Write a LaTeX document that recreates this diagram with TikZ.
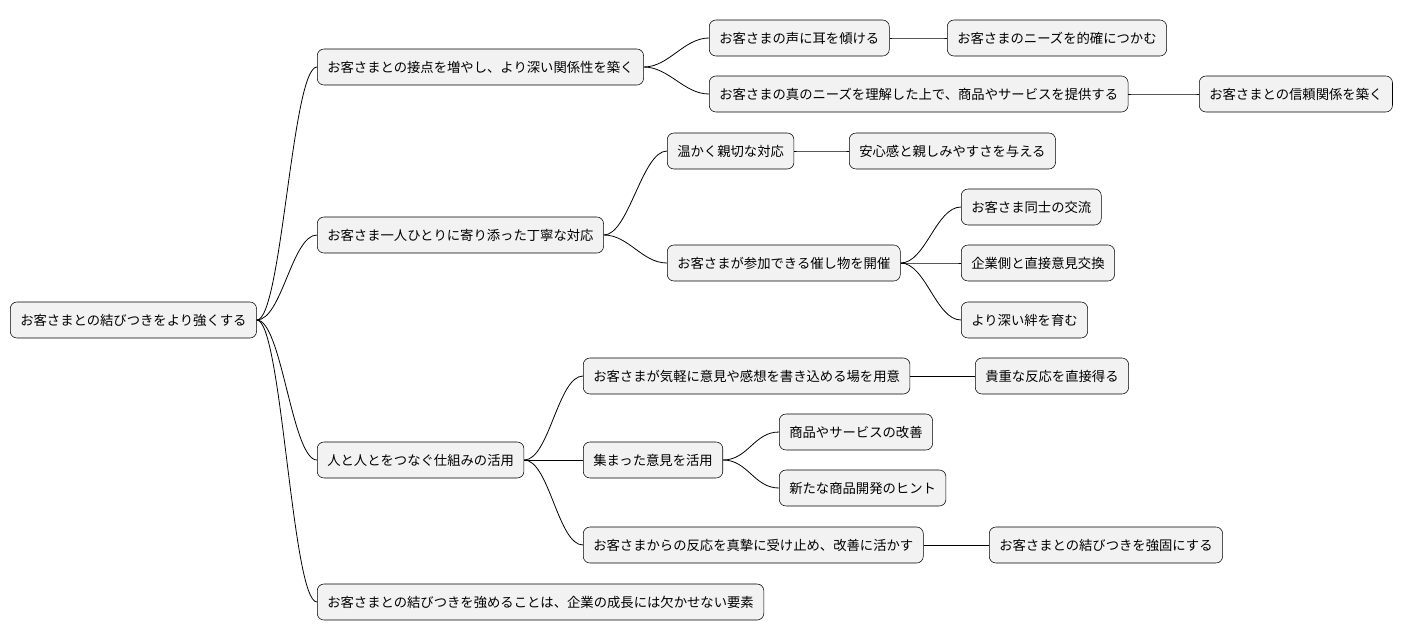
\documentclass[tikz,border=0pt]{standalone}
\usepackage{fontspec}
\setmainfont{Noto Sans CJK JP}
\usetikzlibrary{calc}
\tikzset{
    topic/.style={draw, fill=gray!10, rounded corners=5pt, anchor=west, inner xsep=7.5pt, minimum height=27pt, font=\fontsize{10}{12}\selectfont},
    branch/.style={line width=0.6pt}
}
\newcommand{\branchto}[2]{\draw[branch] (#1.east) .. controls ($(#1.east)+(25,0)$) and ($(#2.west)+(-25,0)$) .. (#2.west);}
\begin{document}
\begin{tikzpicture}[x=0.75pt,y=-0.75pt]
    \useasboundingbox (0,0) rectangle (1412,640);
    \node[topic] (R) at (10,320) {お客さまとの結びつきをより強くする};
    \node[topic] (A) at (317,67) {お客さまとの接点を増やし、より深い関係性を築く};
    \node[topic] (A1) at (709,38) {お客さまの声に耳を傾ける};
    \node[topic] (A1a) at (947,38) {お客さまのニーズを的確につかむ};
    \node[topic] (A2) at (709,94) {お客さまの真のニーズを理解した上で、商品やサービスを提供する};
    \node[topic] (A2a) at (1199,94) {お客さまとの信頼関係を築く};
    \node[topic] (B) at (317,235) {お客さま一人ひとりに寄り添った丁寧な対応};
    \node[topic] (B1) at (667,151) {温かく親切な対応};
    \node[topic] (B1a) at (849,151) {安心感と親しみやすさを与える};
    \node[topic] (B2) at (667,263) {お客さまが参加できる催し物を開催};
    \node[topic] (B2a) at (961,207) {お客さま同士の交流};
    \node[topic] (B2b) at (961,263) {企業側と直接意見交換};
    \node[topic] (B2c) at (961,320) {より深い絆を育む};
    \node[topic] (C) at (317,460) {人と人とをつなぐ仕組みの活用};
    \node[topic] (C1) at (583,376) {お客さまが気軽に意見や感想を書き込める場を用意};
    \node[topic] (C1a) at (975,376) {貴重な反応を直接得る};
    \node[topic] (C2) at (583,460) {集まった意見を活用};
    \node[topic] (C2a) at (779,432) {商品やサービスの改善};
    \node[topic] (C2b) at (779,488) {新たな商品開発のヒント};
    \node[topic] (C3) at (583,545) {お客さまからの反応を真摯に受け止め、改善に活かす};
    \node[topic] (C3a) at (989,545) {お客さまとの結びつきを強固にする};
    \node[topic] (D) at (317,602) {お客さまとの結びつきを強めることは、企業の成長には欠かせない要素};
    \foreach \p/\c in {R/A,R/B,R/C,R/D,A/A1,A/A2,A1/A1a,A2/A2a,B/B1,B/B2,B1/B1a,B2/B2a,B2/B2b,B2/B2c,C/C1,C/C2,C/C3,C1/C1a,C2/C2a,C2/C2b,C3/C3a}
        {\branchto{\p}{\c}}
\end{tikzpicture}
\end{document}
